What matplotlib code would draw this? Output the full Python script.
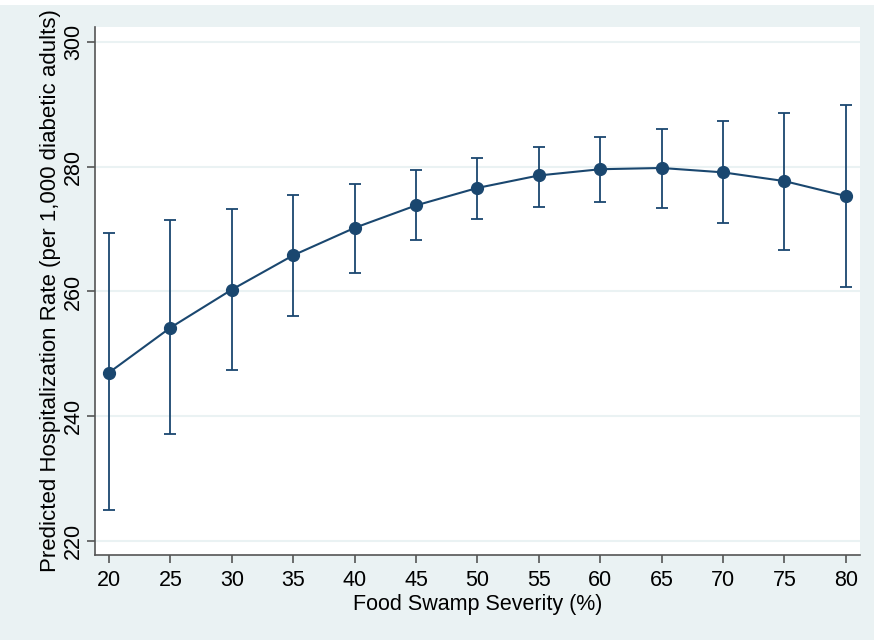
import matplotlib.pyplot as plt
from matplotlib.patches import Rectangle

plt.rcParams['font.family'] = ['Liberation Sans', 'DejaVu Sans']

# food swamp severity (%) and predicted rate with 95% CI
severity = [20, 25, 30, 35, 40, 45, 50, 55, 60, 65, 70, 75, 80]
predicted = [247.0, 254.2, 260.3, 265.8, 270.2, 273.8, 276.6, 278.6, 279.6, 279.8, 279.1, 277.7, 275.3]
upper = [269.3, 271.4, 273.3, 275.4, 277.3, 279.4, 281.4, 283.2, 284.8, 286.1, 287.4, 288.6, 289.9]
lower = [225.0, 237.1, 247.4, 256.0, 263.0, 268.2, 271.7, 273.6, 274.4, 273.4, 271.0, 266.7, 260.7]
yticks = [220, 240, 260, 280, 300]

navy = '#1a476f'
bg = '#eaf2f3'

fig = plt.figure(figsize=(8.74, 6.4), dpi=100, facecolor=bg)
fig.patches.append(Rectangle((0, 1 - 5 / 640), 1, 5 / 640, transform=fig.transFigure,
                             facecolor='white', edgecolor='none', zorder=0))
ax = fig.add_axes([95 / 874, 85 / 640, 765 / 874, 528 / 640])
ax.set_facecolor('white')

yerr = [[p - l for p, l in zip(predicted, lower)], [u - p for p, u in zip(predicted, upper)]]
ax.errorbar(severity, predicted, yerr=yerr, color=navy, lw=1.5, elinewidth=1.3,
            capsize=4.5, capthick=1.3, marker='o', markersize=8.5, zorder=3)

ax.set_xlim(18.86, 81.16)
ax.set_ylim(217.76, 302.4)
ax.set_xticks(severity)
ax.set_yticks(yticks)
ax.set_yticklabels([str(t) for t in yticks], rotation=90, va='center')
ax.grid(axis='y', color=bg, lw=1.5)
ax.set_axisbelow(True)

for s in ['top', 'right']:
    ax.spines[s].set_visible(False)
for s in ['left', 'bottom']:
    ax.spines[s].set_color('#555555')
    ax.spines[s].set_linewidth(1.2)
ax.tick_params(axis='x', labelsize=15.5, length=6, width=1.2, color='#555555', pad=5)
ax.tick_params(axis='y', labelsize=15.5, length=6, width=1.2, color='#555555', pad=2)

ax.set_xlabel('Food Swamp Severity (%)', fontsize=15.5, labelpad=2)
ax.set_ylabel('Predicted Hospitalization Rate (per 1,000 diabetic adults)', fontsize=16, labelpad=1)

fig.savefig('out.png', dpi=100, facecolor=bg)
